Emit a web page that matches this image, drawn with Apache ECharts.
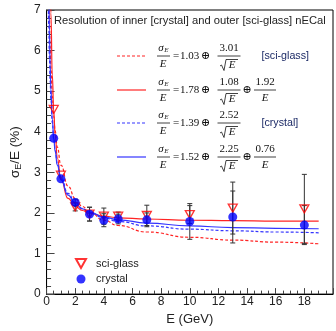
<!DOCTYPE html>
<html>
<head>
<meta charset="utf-8">
<script src="https://cdn.jsdelivr.net/npm/echarts@6/dist/echarts.min.js"></script>
<style>
  html, body { margin: 0; padding: 0; background: #fff; }
  #chart { width: 336px; height: 331px; }
</style>
</head>
<body>
<div id="chart"></div>
<script>
// beam energies and measured resolution (%)
const beamE = [0.5, 1, 2, 3, 4, 5, 7, 10, 13, 18]
const glassRes = [4.55, 2.93, 2.15, 1.97, 1.92, 1.92, 1.94, 1.96, 2.12, 2.10]
const glassErr = [0, 0, 0.1, 0.17, 0.2, 0.1, 0.25, 0.22, 0.64, 0.85]
const crystalRes = [3.84, 2.84, 2.26, 1.97, 1.82, 1.85, 1.83, 1.79, 1.90, 1.70]
const crystalErr = [0, 0, 0.08, 0.17, 0.16, 0.12, 0.17, 0.44, 0.64, 0.48]

// fit curves
const fitE = [0.1, 0.15, 0.2, 0.25, 0.3, 0.4, 0.5, 0.6, 0.75, 1, 1.5, 2, 2.5, 3, 4, 5, 7, 10, 13, 16, 19]
const glassFitDash = [9.57, 7.84, 6.81, 6.11, 5.59, 4.87, 4.38, 4.02, 3.62, 3.18, 2.66, 2.36, 2.16, 2.02, 1.82, 1.69, 1.53, 1.40, 1.33, 1.28, 1.24]
const glassFitSolid = [null, null, 10.06, 8.17, 6.93, 5.40, 4.50, 3.92, 3.36, 2.83, 2.36, 2.16, 2.06, 1.99, 1.92, 1.88, 1.85, 1.82, 1.81, 1.80, 1.80]
const crystalFitDash = [8.09, 6.65, 5.80, 5.23, 4.81, 4.22, 3.83, 3.54, 3.22, 2.88, 2.48, 2.26, 2.11, 2.01, 1.88, 1.79, 1.68, 1.60, 1.56, 1.53, 1.51]
const crystalFitSolid = [10.52, 7.86, 6.49, 5.64, 5.06, 4.31, 3.84, 3.51, 3.18, 2.82, 2.44, 2.23, 2.10, 2.02, 1.90, 1.83, 1.75, 1.68, 1.64, 1.62, 1.61]

// legend formula texts
const fitConst = ['1.03', '1.78', '1.39', '1.52']
const fitStoch = ['3.01', '1.08', '2.52', '2.25']
const fitNoise = [null, '1.92', null, '0.76']
const fitTags = ['[sci-glass]', null, '[crystal]', null]

const RED = '#ff2424'
const BLUE = '#3434ff'
const SERIF = '"Liberation Serif", "DejaVu Serif", serif'
const SANS = '"Liberation Sans", Arial, sans-serif'
const INK = '#111'

const chart = echarts.init(document.getElementById('chart'))

function pairs(ys) {
  return fitE.map((e, i) => [e, ys[i]]).filter(p => p[1] !== null)
}

function fitLine(ys, color, dashed) {
  return {
    type: 'line',
    data: pairs(ys),
    showSymbol: false,
    smooth: true,
    smoothMonotone: 'x',
    silent: true,
    z: 2,
    lineStyle: { color, width: 1.2, type: dashed ? [3, 2] : 'solid' },
  }
}

function errorBars(ys, errs) {
  return {
    type: 'custom',
    silent: true,
    z: 3,
    encode: { x: 0, y: [1, 2] },
    data: beamE.map((e, i) => [e, ys[i] - errs[i], ys[i] + errs[i]]).filter((d, i) => errs[i] > 0),
    renderItem(params, api) {
      const lo = api.coord([api.value(0), api.value(1)])
      const hi = api.coord([api.value(0), api.value(2)])
      const style = { stroke: '#333', lineWidth: 1 }
      const cap = 2.5
      return {
        type: 'group',
        children: [
          { type: 'line', shape: { x1: lo[0], y1: lo[1], x2: hi[0], y2: hi[1] }, style },
          { type: 'line', shape: { x1: lo[0] - cap, y1: lo[1], x2: lo[0] + cap, y2: lo[1] }, style },
          { type: 'line', shape: { x1: hi[0] - cap, y1: hi[1], x2: hi[0] + cap, y2: hi[1] }, style },
        ],
      }
    },
  }
}

// little helpers for the formula box
function txt(x, y, text, font, align, fill) {
  return {
    type: 'text', x, y, silent: true,
    style: { text, font: font || `11px ${SERIF}`, fill: fill || INK, align: align || 'center', verticalAlign: 'middle' },
  }
}
function seg(x1, y1, x2, y2, stroke, dash, w) {
  return {
    type: 'line', silent: true,
    shape: { x1, y1, x2, y2 },
    style: { stroke: stroke || INK, lineWidth: w || 0.8, lineDash: dash || null },
  }
}
function frac(cx, cy, num, halfW, sqrt) {
  const out = [txt(cx, cy - 7.5, num), seg(cx - halfW, cy, cx + halfW, cy)]
  if (sqrt) {
    out.push({
      type: 'polyline', silent: true,
      shape: { points: [[cx - 9, cy + 10], [cx - 7.5, cy + 9], [cx - 5, cy + 14.5], [cx - 3, cy + 3.5], [cx + 9, cy + 3.5]] },
      style: { stroke: INK, lineWidth: 0.8, fill: null },
    })
    out.push(txt(cx + 3, cy + 9.5, 'E', `italic 11px ${SERIF}`))
  } else {
    out.push(txt(cx, cy + 8, 'E', `italic 11px ${SERIF}`))
  }
  return out
}

const formulaY = [56, 90, 123, 157]
const graphics = []
formulaY.forEach((cy, i) => {
  const color = i < 2 ? RED : BLUE
  const dashed = i % 2 === 0
  graphics.push(seg(117, cy, 146, cy, color, dashed ? [3, 2] : null, 1.2))
  // sigma_E / E
  graphics.push(txt(161, cy - 7.5, 'σ', `italic 11px ${SERIF}`))
  graphics.push(txt(166.5, cy - 5.5, 'E', `italic 7px ${SERIF}`))
  graphics.push(seg(157, cy, 170, cy))
  graphics.push(txt(163, cy + 8, 'E', `italic 11px ${SERIF}`))
  graphics.push(txt(176, cy + 0.5, '='))
  graphics.push(txt(180, cy + 0.5, fitConst[i], null, 'left'))
  graphics.push(txt(205.5, cy + 0.5, '⊕'))
  graphics.push(...frac(229, cy, fitStoch[i], 11.5, true))
  if (fitNoise[i]) {
    graphics.push(txt(247, cy + 0.5, '⊕'))
    graphics.push(...frac(265, cy, fitNoise[i], 11, false))
  }
  if (fitTags[i]) {
    graphics.push(txt(261.5, cy, fitTags[i], `10.7px ${SANS}`, 'left', '#1c2a66'))
  }
})

chart.setOption({
  animation: false,
  title: {
    text: 'Resolution of inner [crystal] and outer [sci-glass] nECal',
    left: 54,
    top: 15,
    padding: 0,
    textStyle: { fontSize: 11.2, fontWeight: 'normal', fontFamily: SANS, color: '#222' },
  },
  legend: {
    orient: 'vertical',
    left: 75,
    top: 258,
    padding: 0,
    itemWidth: 10,
    itemHeight: 9,
    itemGap: 4.5,
    data: ['sci-glass', 'crystal'],
    textStyle: { fontSize: 11, fontFamily: SANS, color: '#222', padding: [0, 0, 0, 5] },
  },
  grid: {
    left: 40, top: 10, width: 300, height: 291.7,
    show: true, borderColor: '#000', borderWidth: 1,
  },
  xAxis: {
    type: 'value',
    min: 0, max: 20, interval: 2,
    name: 'E (GeV)',
    nameLocation: 'middle',
    nameGap: 16,
    nameTextStyle: { fontSize: 13, fontFamily: SANS, color: '#222' },
    axisLine: { show: true, lineStyle: { color: '#000' } },
    axisTick: { inside: true, length: 6, lineStyle: { color: '#444' } },
    minorTick: { show: true, splitNumber: 4, length: 3.5, lineStyle: { color: '#444' } },
    splitLine: { show: false },
    axisLabel: {
      margin: 2, fontSize: 12, fontFamily: SANS, color: '#222',
      formatter: v => (v >= 20 ? '' : String(v)),
    },
  },
  yAxis: {
    type: 'value',
    min: 0, max: 7, interval: 1,
    name: '{a|σ}{b|E}{a|/E (%)}',
    nameLocation: 'middle',
    nameGap: 21,
    nameTextStyle: {
      rich: {
        a: { fontSize: 13.5, fontFamily: SANS, color: '#222', lineHeight: 16 },
        b: { fontSize: 9, fontFamily: SANS, color: '#222', lineHeight: 16, verticalAlign: 'bottom' },
      },
    },
    axisLine: { show: true, lineStyle: { color: '#000' } },
    axisTick: { inside: true, length: 8, lineStyle: { color: '#444' } },
    minorTick: { show: true, splitNumber: 5, length: 4.5, lineStyle: { color: '#444' } },
    splitLine: { show: false },
    axisLabel: { margin: 6, fontSize: 12, fontFamily: SANS, color: '#222' },
  },
  graphic: graphics,
  series: [
    fitLine(glassFitDash, RED, true),
    fitLine(glassFitSolid, RED, false),
    fitLine(crystalFitDash, BLUE, true),
    fitLine(crystalFitSolid, BLUE, false),
    errorBars(glassRes, glassErr),
    errorBars(crystalRes, crystalErr),
    {
      name: 'sci-glass',
      type: 'scatter',
      z: 4,
      data: beamE.map((e, i) => [e, glassRes[i]]),
      symbol: 'path://M0,0L10,0L5,9Z',
      symbolSize: [9, 8],
      itemStyle: { color: 'rgba(255,255,255,0)', borderColor: '#ff0000', borderWidth: 1.3 },
    },
    {
      name: 'crystal',
      type: 'scatter',
      z: 5,
      data: beamE.map((e, i) => [e, crystalRes[i]]),
      symbol: 'circle',
      symbolSize: 9,
      itemStyle: { color: '#0000ff' },
    },
  ],
})
</script>
</body>
</html>
